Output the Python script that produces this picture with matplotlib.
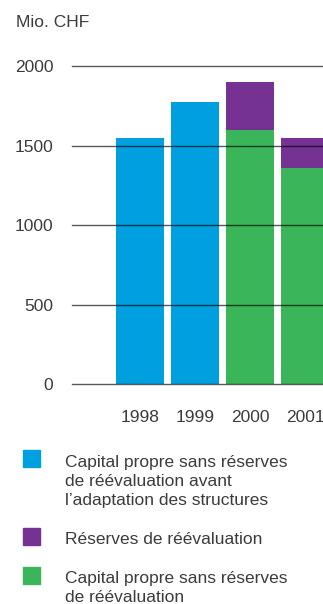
import matplotlib.pyplot as plt
from matplotlib.patches import Rectangle

plt.rcParams['font.family'] = ['Liberation Sans', 'DejaVu Sans']

years = ["1998", "1999", "2000", "2001"]
before_restructuring = [1550, 1775, 0, 0]
equity_without_reserves = [0, 0, 1600, 1360]
revaluation_reserves = [0, 0, 300, 190]

legend_labels = [
    "Capital propre sans réserves\nde réévaluation avant\nl’adaptation des structures",
    "Réserves de réévaluation",
    "Capital propre sans réserves\nde réévaluation",
]

blue = "#009fe0"
purple = "#763292"
green = "#3ab55a"
text_color = "#3c3c3c"
fs = 12.5

W, H = 323, 604
fig = plt.figure(figsize=(W / 100, H / 100), dpi=100)

# axes: x from 72px to the right edge, y from 384px (zero) up to 60px
ax = fig.add_axes([72 / W, 1 - 384 / H, 1 - 72 / W, 324 / H])

x = range(len(years))
width = 0.873
ax.bar(x, before_restructuring, width, color=blue, zorder=1)
ax.bar(x, equity_without_reserves, width, color=green, zorder=1)
ax.bar(x, revaluation_reserves, width, bottom=equity_without_reserves, color=purple, zorder=1)

ax.set_xlim(-1.236, 3.327)
ax.set_ylim(0, 324 / 79.4 * 500)

for v in [0, 500, 1000, 1500, 2000]:
    ax.axhline(v, color="black", alpha=0.65, lw=1, zorder=3, clip_on=False)

for s in ax.spines.values():
    s.set_visible(False)
ax.set_yticks([0, 500, 1000, 1500, 2000])
ax.set_xticks(list(x))
ax.set_xticklabels(years)
ax.tick_params(length=0, labelsize=fs, colors=text_color)
ax.tick_params(axis="y", pad=13.5)
ax.tick_params(axis="x", pad=19)

fig.text(16 / W, 1 - 27 / H, "Mio. CHF", fontsize=fs, color=text_color, va="baseline")

# legend entries: swatch + text, one line at a time (baselines in px)
colors = [blue, purple, green]
tops = [450, 528, 567]
baselines = [467, 544, 583]
for c, top, base, lab in zip(colors, tops, baselines, legend_labels):
    fig.add_artist(Rectangle((23 / W, 1 - (top + 17) / H), 17 / W, 17 / H,
                             transform=fig.transFigure, color=c))
    for i, line in enumerate(lab.split("\n")):
        fig.text(65 / W, 1 - (base + 19 * i) / H, line, fontsize=fs,
                 color=text_color, va="baseline")

fig.savefig("out.png", dpi=100)
